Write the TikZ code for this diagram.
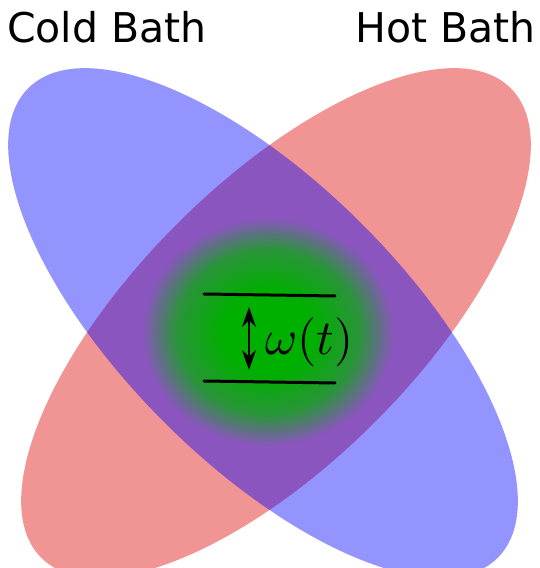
\documentclass[tikz,border=0pt]{standalone}
\usepackage{fontspec}
\setsansfont{DejaVu Sans}
\usetikzlibrary{fadings,arrows.meta}
\definecolor{coldblue}{RGB}{0,0,255}
\definecolor{hotred}{RGB}{241,148,148}
\definecolor{glowgreen}{RGB}{0,176,0}
\pgfdeclareradialshading{glowshade}{\pgfpointorigin}{color(0bp)=(transparent!0); color(9bp)=(transparent!0); color(18bp)=(transparent!30); color(25bp)=(transparent!100); color(50bp)=(transparent!100)}
\pgfdeclarefading{glow}{\pgfuseshading{glowshade}}
\tikzset{
	bathlabel/.style={inner sep=0pt, font=\sffamily\fontsize{41}{45}\selectfont},
	level/.style={line width=3pt, line cap=round},
}
\begin{document}
\begin{tikzpicture}[x=1pt,y=1pt]
			\useasboundingbox (0,0) rectangle (540,568);
			% baths
			\fill [hotred, rotate around={45:(276,245)}] (276,245) ellipse (332 and 140);
			\fill [coldblue, opacity=0.42, rotate around={-45:(263,245)}] (263,245) ellipse (332 and 140);
			\fill [glowgreen, path fading=glow] (268,236) ellipse (126 and 114);
			\node [bathlabel, anchor=base west] (cold) at (7,525) {Cold Bath};
			\node [bathlabel, anchor=base east] (hot) at (536,525) {Hot Bath};
			% two levels
			\coordinate (e1l) at (204,274);
			\coordinate (e1r) at (335,272);
			\coordinate (e0l) at (204,187);
			\coordinate (e0r) at (335,185);
			\coordinate (up) at (249,261);
			\coordinate (dn) at (249,198);
			\node [anchor=base west, inner sep=0pt] (w) at (265,213) {\scalebox{4.9}{$\omega(t)$}};
			\draw [level] (e1l) to (e1r);
			\draw [level] (e0l) to (e0r);
			\draw [{Stealth[length=20pt,width=14pt]}-{Stealth[length=20pt,width=14pt]}, line width=2.5pt] (up) to (dn);
		\end{tikzpicture}
\end{document}
